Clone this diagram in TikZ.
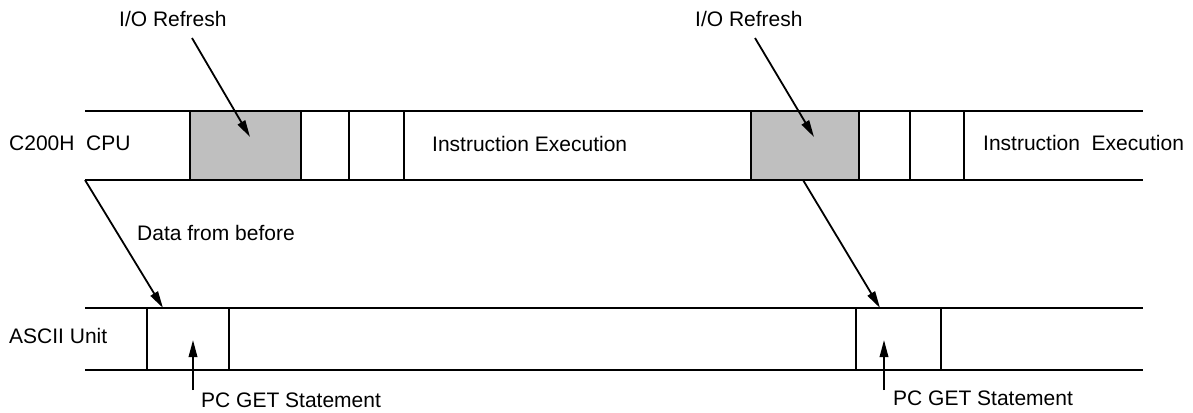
\documentclass[tikz,border=0pt]{standalone}
\usepackage{fontspec}
\setmainfont{Liberation Sans}
\usetikzlibrary{arrows.meta}
\begin{document}
\begin{tikzpicture}[x=1pt,y=-1pt,
  band/.style={line width=1.9pt},
  refresh/.style={draw,line width=1.9pt,fill=black!25,inner sep=0pt,outer sep=0pt},
  slot/.style={draw,line width=1.9pt,inner sep=0pt,outer sep=0pt},
  arr/.style={line width=1.8pt,-{Triangle[length=17pt,width=8.5pt]}},
  lbl/.style={anchor=base west,inner sep=0pt,font=\fontsize{21}{25}\selectfont}]
\useasboundingbox (0,0) rectangle (1193,412);
% bands
\draw[band] (85,111) -- (1143,111);
\draw[band] (85,180) -- (1143,180);
\draw[band] (85,308) -- (1143,308);
\draw[band] (85,370) -- (1143,370);
% CPU boxes
\node[refresh,minimum width=111pt,minimum height=69pt] (r1) at (245.5,145.5) {};
\node[refresh,minimum width=108pt,minimum height=69pt] (r2) at (805,145.5) {};
\draw[band] (349,111) -- (349,180);
\draw[band] (404,111) -- (404,180);
\draw[band] (910,111) -- (910,180);
\draw[band] (964,111) -- (964,180);
% ASCII boxes
\node[slot,minimum width=82pt,minimum height=62pt] (g1) at (188,339) {};
\node[slot,minimum width=85pt,minimum height=62pt] (g2) at (898.5,339) {};
% labels
\node[lbl] (io1) at (119,27) {I/O Refresh};
\node[lbl] (io2) at (695,27) {I/O Refresh};
\node[lbl] (cpu) at (9,150) {C200H\ \ CPU};
\node[lbl] (ie1) at (432,151) {Instruction Execution};
\node[lbl] (ie2) at (983,150) {Instruction\ \ Execution};
\node[lbl] (dfb) at (137,240) {Data from before};
\node[lbl] (asc) at (9,343) {ASCII Unit};
\node[lbl] (pc1) at (201,407) {PC GET Statement};
\node[lbl] (pc2) at (893,405) {PC GET Statement};
% connector points
\coordinate (a1s) at (192,38);
\coordinate (a1e) at (250,137);
\coordinate (a2s) at (755,38);
\coordinate (a2e) at (814,137);
\coordinate (d1s) at (85,180);
\coordinate (d1e) at (163,308);
\coordinate (d2s) at (803,180);
\coordinate (d2e) at (880,308);
\coordinate (p1s) at (193,390);
\coordinate (p1e) at (193,340);
\coordinate (p2s) at (884,390);
\coordinate (p2e) at (884,340);
% arrows
\draw[arr] (a1s) -- (a1e);
\draw[arr] (a2s) -- (a2e);
\draw[arr] (d1s) -- (d1e);
\draw[arr] (d2s) -- (d2e);
\draw[arr] (p1s) -- (p1e);
\draw[arr] (p2s) -- (p2e);
\end{tikzpicture}
\end{document}
